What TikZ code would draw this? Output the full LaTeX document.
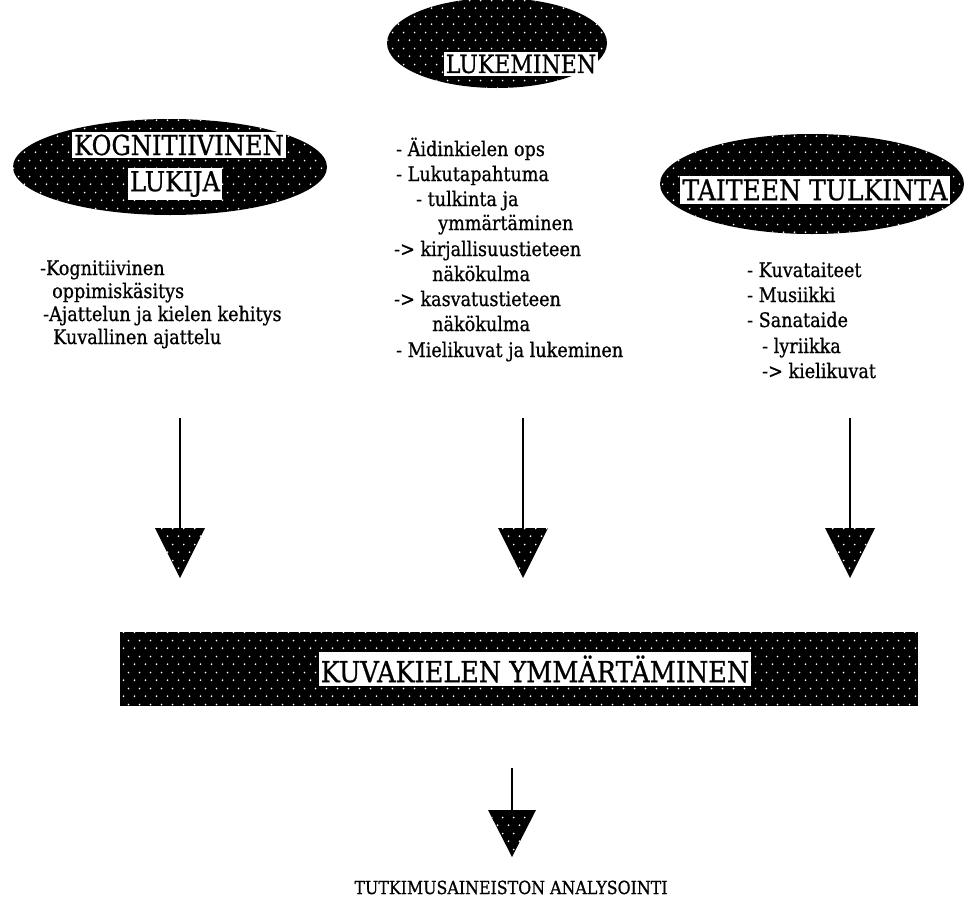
\documentclass[tikz,border=0pt]{standalone}
\usepackage{fontspec}
\setmainfont{DejaVu Serif}[FakeStretch=0.88, FakeBold=0.8]
\usetikzlibrary{shapes.geometric,patterns.meta}
\tikzdeclarepattern{
  name=halftone,
  type=uncolored,
  bottom left={(0pt,0pt)},
  top right={(11pt,16pt)},
  tile size={(11pt,16pt)},
  code={\fill (2.75pt,4pt) circle (1pt); \fill (8.25pt,12pt) circle (1pt);}
}
\tikzset{
  dotfill/.style={fill=black, postaction={pattern=halftone, pattern color=white}},
  blob/.style={ellipse, dotfill, inner sep=0pt},
  headlbl/.style={fill=white, inner xsep=2pt, inner ysep=3pt, font=\fontsize{26.5}{28}\selectfont},
  bodytxt/.style={anchor=base west, inner sep=0pt, font=\fontsize{20}{22}\selectfont},
  stem/.style={line width=1.7pt},
}
\begin{document}
\begin{tikzpicture}[x=1pt,y=-1pt]
\useasboundingbox (0,0) rectangle (964,908);

% ellipses
\node[blob, minimum width=220pt, minimum height=90pt] (lukE) at (497,43) {};
\node[headlbl, font=\fontsize{25}{27}\selectfont] (lukL) at (521,64) {LUKEMINEN};

\node[blob, minimum width=314pt, minimum height=96pt] (kogE) at (170,167) {};
\node[headlbl, font=\fontsize{27.5}{29}\selectfont] (kogL1) at (179,145) {KOGNITIIVINEN};
\node[headlbl, font=\fontsize{27.5}{29}\selectfont] (kogL2) at (175,184) {LUKIJA};

\node[blob, minimum width=304pt, minimum height=100pt] (taiE) at (812,184) {};
\node[headlbl, font=\fontsize{28.5}{30}\selectfont] (taiL) at (815,190) {TAITEEN TULKINTA};

% left column
\node[bodytxt] (l1) at (40,275) {-Kognitiivinen};
\node[bodytxt] (l2) at (52,298) {oppimiskäsitys};
\node[bodytxt] (l3) at (43,321) {-Ajattelun ja kielen kehitys};
\node[bodytxt] (l4) at (53,344) {Kuvallinen ajattelu};

% middle column
\node[bodytxt] (m1) at (396,156) {- Äidinkielen ops};
\node[bodytxt] (m2) at (396,181) {- Lukutapahtuma};
\node[bodytxt] (m3) at (416,206) {- tulkinta ja};
\node[bodytxt] (m4) at (438,230) {ymmärtäminen};
\node[bodytxt] (m5) at (394,256) {-> kirjallisuustieteen};
\node[bodytxt] (m6) at (432,281) {näkökulma};
\node[bodytxt] (m7) at (394,306) {-> kasvatustieteen};
\node[bodytxt] (m8) at (432,331) {näkökulma};
\node[bodytxt] (m9) at (396,357) {- Mielikuvat ja lukeminen};

% right column
\node[bodytxt] (r1) at (747,277) {- Kuvataiteet};
\node[bodytxt] (r2) at (747,302) {- Musiikki};
\node[bodytxt] (r3) at (747,327) {- Sanataide};
\node[bodytxt] (r4) at (762,353) {- lyriikka};
\node[bodytxt] (r5) at (762,378) {-> kielikuvat};

% arrows
\foreach \n/\x in {a/180,b/523,c/850}{
  \coordinate (\n s) at (\x,418);
  \coordinate (\n t) at (\x,528);
  \fill[dotfill] (\x-25,528) -- (\x+25,528) -- (\x,578) -- cycle;
  \draw[stem] (\n s) -- (\n t);
}

% bar
\node[rectangle, dotfill, inner sep=0pt, minimum width=798pt, minimum height=74pt] (bar) at (519,669) {};
\node[headlbl, font=\fontsize{29}{31}\selectfont] (barL) at (535,669) {KUVAKIELEN YMMÄRTÄMINEN};

% bottom arrow
\coordinate (ds) at (512,768);
\coordinate (dt) at (512,810);
\fill[dotfill] (512-24,810) -- (512+24,810) -- (512,857) -- cycle;
\draw[stem] (ds) -- (dt);

\node[anchor=base, inner sep=0pt, font=\fontsize{18}{20}\selectfont] (out) at (511,894) {TUTKIMUSAINEISTON ANALYSOINTI};
\end{tikzpicture}
\end{document}
